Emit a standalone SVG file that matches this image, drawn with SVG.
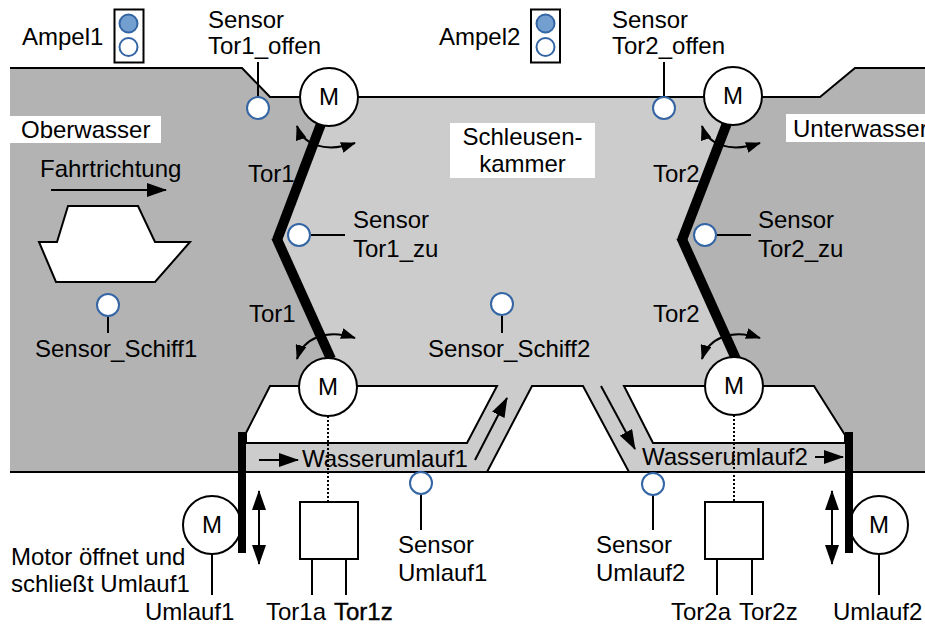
<svg xmlns="http://www.w3.org/2000/svg" width="925" height="628" viewBox="0 0 925 628">
  <defs>
    <style>
      text { font-family: "Liberation Sans", Arial, sans-serif; font-size: 24px; fill: #000; }
      .mid { text-anchor: middle; }
      .ln { stroke: #000; stroke-width: 2; fill: none; }
      .shape { stroke: #000; stroke-width: 2; fill: #fff; stroke-linejoin: miter; }
      .gate { stroke: #000; stroke-width: 10; fill: none; }
      .sensor { fill: #fff; stroke: #3465a4; stroke-width: 2; }
      .lamp-on { fill: #729fcf; stroke: #3465a4; stroke-width: 2; }
      .dot { stroke: #000; stroke-width: 2; stroke-dasharray: 2 2; fill: none; }
      .arr { stroke: #000; stroke-width: 2; fill: none; marker-end: url(#head); }
      .arr2 { stroke: #000; stroke-width: 2; fill: none; marker-start: url(#head); marker-end: url(#head); }
      .rot { stroke: #000; stroke-width: 2; fill: none; marker-start: url(#headS); marker-end: url(#headS); }
      .label-bg { fill: #fff; }
    </style>
    <marker id="head" markerUnits="userSpaceOnUse" markerWidth="20" markerHeight="14" refX="19" refY="7" orient="auto-start-reverse">
      <path d="M0,0 L20,7 L0,14 z" fill="#000"/>
    </marker>
    <marker id="headS" markerUnits="userSpaceOnUse" markerWidth="15" markerHeight="11" refX="14" refY="5.5" orient="auto-start-reverse">
      <path d="M0,0 L15,5.5 L0,11 z" fill="#000"/>
    </marker>
  </defs>

  <!-- water areas -->
  <g id="water">
    <polygon points="10,68 242,68 270,97 820,97 855,68 925,68 925,472 10,472" fill="#cccccc"/>
    <polygon id="oberwasser-area" points="10,68 242,68 270,97 329,97 322,118 277,238 330,358 328,386 270,386 246,433 246,472 10,472" fill="#b3b3b3"/>
    <polygon id="unterwasser-area" points="733,96 820,97 855,68 925,68 925,472 845,472 845,435 814,386 734,386 735,357 681,238 727,120" fill="#b3b3b3"/>
  </g>

  <!-- lock walls -->
  <g id="walls">
    <polygon class="shape" points="270,386 497,386 467,443 246,443 246,433"/>
    <polygon class="shape" points="532,386 583,386 629,472 487,472"/>
    <polygon class="shape" points="624,386 814,386 845,435 845,443 653,443"/>
    <polyline class="ln" points="10,68 242,68 270,97 820,97 855,68 925,68"/>
    <line class="ln" x1="10" y1="472" x2="925" y2="472"/>
  </g>

  <!-- labels on white -->
  <g id="oberwasser">
    <rect class="label-bg" x="10" y="116" width="151" height="27"/>
    <text x="21" y="138">Oberwasser</text>
  </g>
  <g id="unterwasser">
    <rect class="label-bg" x="786" y="114" width="139" height="28"/>
    <text x="793" y="137">Unterwasser</text>
  </g>
  <g id="schleusenkammer">
    <rect class="label-bg" x="450" y="123" width="145" height="55"/>
    <text class="mid" x="522.5" y="145">Schleusen-</text>
    <text class="mid" x="522.5" y="172">kammer</text>
  </g>

  <!-- traffic lights -->
  <g id="ampel1">
    <text x="22" y="45">Ampel1</text>
    <rect x="114.5" y="9.5" width="29" height="53" fill="#fff" stroke="#000" stroke-width="2"/>
    <circle class="lamp-on" cx="128.5" cy="23.5" r="9"/>
    <circle class="sensor" cx="128.5" cy="47" r="9"/>
  </g>
  <g id="ampel2">
    <text x="439" y="45">Ampel2</text>
    <rect x="531" y="9.5" width="29" height="53" fill="#fff" stroke="#000" stroke-width="2"/>
    <circle class="lamp-on" cx="545.5" cy="23.5" r="9"/>
    <circle class="sensor" cx="545.5" cy="47" r="9"/>
  </g>

  <!-- ship and direction -->
  <g id="schiff">
    <text x="40" y="177">Fahrtrichtung</text>
    <line class="arr" x1="51" y1="190" x2="166" y2="190"/>
    <polygon class="shape" points="68,206 138,206 155,242 190,242 155,282 56,282 39,242 57,242"/>
  </g>

  <!-- connectors: gates, arrows, sensor leads -->
  <g id="connectors">
    <line class="gate" x1="324" y1="116" x2="277" y2="240"/>
    <line class="gate" x1="276" y1="237" x2="331" y2="359"/>
    <line class="gate" x1="729" y1="118" x2="682" y2="240"/>
    <line class="gate" x1="681" y1="237" x2="736" y2="359"/>

    <path class="rot" d="M297,126 C303,145 325,153 355,143"/>
    <path class="rot" d="M297,359 C303,339 325,328 355,338"/>
    <path class="rot" d="M702,126 C708,145 730,153 760,143"/>
    <path class="rot" d="M702,359 C708,339 730,328 760,338"/>

    <line class="arr" x1="259" y1="460" x2="298" y2="460"/>
    <line class="arr" x1="475" y1="460" x2="507" y2="398"/>
    <line class="arr" x1="601" y1="386" x2="635" y2="449"/>
    <line class="arr" x1="815" y1="457" x2="843" y2="457"/>
    <line class="arr2" x1="259" y1="491" x2="259" y2="564"/>
    <line class="arr2" x1="832" y1="491" x2="832" y2="564"/>

    <line class="dot" x1="328" y1="416" x2="328" y2="502"/>
    <line class="dot" x1="734" y1="415" x2="734" y2="502"/>

    <line class="ln" x1="258" y1="62" x2="258" y2="97"/>
    <line class="ln" x1="664" y1="62" x2="664" y2="97"/>
    <line class="ln" x1="311" y1="235" x2="345" y2="235"/>
    <line class="ln" x1="717" y1="235" x2="751" y2="235"/>
    <line class="ln" x1="108" y1="316" x2="108" y2="333"/>
    <line class="ln" x1="502" y1="316" x2="502" y2="333"/>
    <line class="ln" x1="421" y1="495" x2="421" y2="530"/>
    <line class="ln" x1="653" y1="495" x2="653" y2="530"/>
    <line class="ln" x1="212" y1="554" x2="212" y2="595"/>
    <line class="ln" x1="879" y1="554" x2="879" y2="595"/>
  </g>

  <!-- gate labels -->
  <g id="tor1-labels">
    <text x="248" y="182">Tor1</text>
    <text x="249" y="322">Tor1</text>
  </g>
  <g id="tor2-labels">
    <text x="653" y="182">Tor2</text>
    <text x="653" y="322">Tor2</text>
  </g>

  <!-- gate motors -->
  <g id="motor-tor1-oben">
    <circle class="shape" cx="329" cy="97" r="29"/>
    <text class="mid" x="329" y="105">M</text>
  </g>
  <g id="motor-tor1-unten">
    <circle class="shape" cx="328" cy="387" r="29"/>
    <text class="mid" x="328" y="395">M</text>
  </g>
  <g id="motor-tor2-oben">
    <circle class="shape" cx="733" cy="96" r="29"/>
    <text class="mid" x="733" y="104">M</text>
  </g>
  <g id="motor-tor2-unten">
    <circle class="shape" cx="734" cy="386" r="29"/>
    <text class="mid" x="734" y="394">M</text>
  </g>

  <!-- sensors -->
  <g id="sensor-tor1-offen">
    <circle class="sensor" cx="258" cy="108" r="11"/>
    <text x="208" y="28">Sensor</text>
    <text x="208" y="54">Tor1_offen</text>
  </g>
  <g id="sensor-tor2-offen">
    <circle class="sensor" cx="664" cy="108" r="11"/>
    <text x="612" y="28">Sensor</text>
    <text x="612" y="54">Tor2_offen</text>
  </g>
  <g id="sensor-tor1-zu">
    <circle class="sensor" cx="299" cy="235" r="11"/>
    <text x="353" y="228">Sensor</text>
    <text x="353" y="257">Tor1_zu</text>
  </g>
  <g id="sensor-tor2-zu">
    <circle class="sensor" cx="705" cy="235" r="11"/>
    <text x="758" y="228">Sensor</text>
    <text x="758" y="257">Tor2_zu</text>
  </g>
  <g id="sensor-schiff1">
    <circle class="sensor" cx="108" cy="305" r="11"/>
    <text x="35" y="357">Sensor_Schiff1</text>
  </g>
  <g id="sensor-schiff2">
    <circle class="sensor" cx="502" cy="304" r="11"/>
    <text x="428" y="357">Sensor_Schiff2</text>
  </g>
  <g id="sensor-umlauf1">
    <circle class="sensor" cx="421" cy="483" r="11"/>
    <text x="398" y="553">Sensor</text>
    <text x="398" y="581">Umlauf1</text>
  </g>
  <g id="sensor-umlauf2">
    <circle class="sensor" cx="653" cy="484" r="11"/>
    <text x="596" y="553">Sensor</text>
    <text x="596" y="581">Umlauf2</text>
  </g>

  <!-- bypass channels -->
  <g id="wasserumlauf1">
    <text x="302" y="467">Wasserumlauf1</text>
  </g>
  <g id="wasserumlauf2">
    <text x="642" y="465">Wasserumlauf2</text>
  </g>

  <!-- bypass valves -->
  <g id="umlauf1">
    <circle class="shape" cx="212" cy="525" r="29"/>
    <text class="mid" x="212" y="533">M</text>
    <rect x="238" y="432" width="8" height="121" fill="#000"/>
    <text x="145" y="620">Umlauf1</text>
    <text x="11" y="565">Motor öffnet und</text>
    <text x="11" y="592">schließt Umlauf1</text>
  </g>
  <g id="umlauf2">
    <circle class="shape" cx="879" cy="525" r="29"/>
    <text class="mid" x="879" y="533">M</text>
    <rect x="845" y="432" width="8" height="121" fill="#000"/>
    <text x="833" y="620">Umlauf2</text>
  </g>

  <!-- gate controllers -->
  <g id="steuerung-tor1">
    <rect class="shape" x="300" y="502" width="58" height="57"/>
    <line class="ln" x1="312" y1="559" x2="312" y2="595"/>
    <line class="ln" x1="346" y1="559" x2="346" y2="595"/>
    <text x="266" y="620">Tor1a</text>
    <text x="334" y="620" stroke="#000" stroke-width="0.4">Tor1z</text>
  </g>
  <g id="steuerung-tor2">
    <rect class="shape" x="705" y="502" width="58" height="57"/>
    <line class="ln" x1="717" y1="559" x2="717" y2="595"/>
    <line class="ln" x1="752" y1="559" x2="752" y2="595"/>
    <text x="671" y="620">Tor2a</text>
    <text x="739" y="620">Tor2z</text>
  </g>
</svg>
